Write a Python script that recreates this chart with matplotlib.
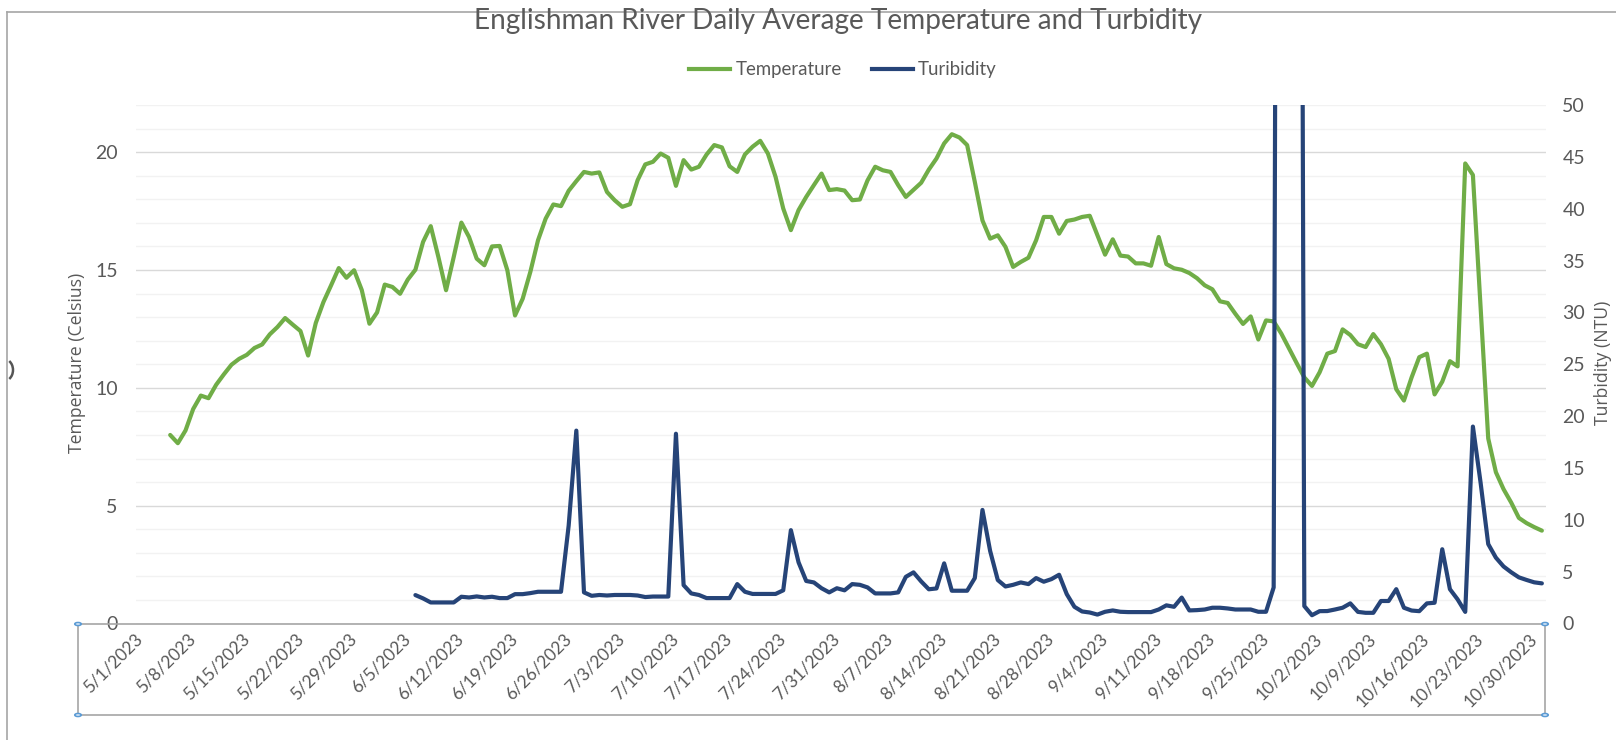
import numpy as np
import pandas as pd
import matplotlib
matplotlib.use("Agg")
import matplotlib.pyplot as plt
from matplotlib.patches import Rectangle, Circle, Arc
from matplotlib.lines import Line2D

# daily averages
temp_start = "2023-05-05"
temperature = [
    8.0, 7.65, 8.19, 9.1, 9.67, 9.56, 10.13, 10.57, 10.98, 11.23,
    11.4, 11.69, 11.84, 12.27, 12.58, 12.96, 12.68, 12.41, 11.37, 12.75,
    13.64, 14.35, 15.08, 14.67, 14.99, 14.15, 12.72, 13.2, 14.38, 14.28,
    13.99, 14.59, 15.01, 16.19, 16.86, 15.55, 14.14, 15.55, 17.01, 16.4,
    15.48, 15.2, 16.0, 16.02, 14.99, 13.07, 13.78, 14.92, 16.26, 17.18,
    17.78, 17.71, 18.36, 18.77, 19.16, 19.09, 19.14, 18.31, 17.96, 17.68,
    17.79, 18.81, 19.48, 19.59, 19.94, 19.76, 18.57, 19.66, 19.26, 19.38,
    19.9, 20.3, 20.2, 19.4, 19.16, 19.9, 20.23, 20.48, 19.94, 18.95,
    17.61, 16.69, 17.54, 18.1, 18.6, 19.09, 18.39, 18.43, 18.37, 17.96,
    17.99, 18.8, 19.38, 19.23, 19.16, 18.6, 18.1, 18.4, 18.7, 19.26,
    19.73, 20.37, 20.76, 20.62, 20.3, 18.74, 17.1, 16.33, 16.47, 15.98,
    15.13, 15.34, 15.52, 16.26, 17.25, 17.25, 16.54, 17.08, 17.14, 17.25,
    17.3, 16.48, 15.65, 16.3, 15.61, 15.57, 15.28, 15.28, 15.18, 16.4,
    15.25, 15.07, 15.01, 14.87, 14.65, 14.35, 14.18, 13.67, 13.6, 13.14,
    12.71, 13.03, 12.05, 12.86, 12.82, 12.3, 11.67, 11.05, 10.44, 10.08,
    10.66, 11.45, 11.56, 12.48, 12.24, 11.85, 11.73, 12.28, 11.85, 11.23,
    9.94, 9.46, 10.44, 11.3, 11.45, 9.72, 10.26, 11.13, 10.91, 19.52,
    19.03, 13.45, 7.85, 6.42, 5.7, 5.13, 4.48, 4.26, 4.09, 3.94,
]

turb_start = "2023-06-06"
turbidity = [
    2.74, 2.42, 2.03, 2.03, 2.03, 2.03, 2.58, 2.51, 2.61, 2.51,
    2.58, 2.45, 2.45, 2.83, 2.83, 2.93, 3.06, 3.06, 3.06, 3.06,
    9.44, 18.6, 3.0, 2.67, 2.75, 2.7, 2.75, 2.75, 2.75, 2.7,
    2.55, 2.6, 2.6, 2.6, 18.3, 3.7, 2.9, 2.75, 2.45, 2.45,
    2.45, 2.45, 3.8, 3.06, 2.85, 2.85, 2.85, 2.85, 3.2, 9.0,
    5.9, 4.1, 3.96, 3.4, 3.0, 3.4, 3.2, 3.8, 3.73, 3.48,
    2.9, 2.9, 2.9, 3.0, 4.5, 4.93, 4.06, 3.3, 3.38, 5.8,
    3.16, 3.16, 3.16, 4.38, 10.95, 7.0, 4.19, 3.57, 3.73, 3.96,
    3.8, 4.38, 4.03, 4.28, 4.7, 2.83, 1.61, 1.16, 1.06, 0.86,
    1.13, 1.26, 1.13, 1.1, 1.1, 1.1, 1.1, 1.35, 1.75, 1.61,
    2.5, 1.26, 1.29, 1.35, 1.52, 1.52, 1.45, 1.35, 1.35, 1.35,
    1.13, 1.13, 3.48, 250, 300, 230, 1.68, 0.8, 1.19, 1.2,
    1.35, 1.52, 1.94, 1.12, 1.03, 1.03, 2.17, 2.17, 3.31, 1.52,
    1.25, 1.19, 1.94, 2.0, 7.16, 3.31, 2.33, 1.12, 18.99, 13.6,
    7.66, 6.35, 5.5, 4.94, 4.45, 4.2, 3.97, 3.87,
]

tick_labels = [
    "5/1/2023", "5/8/2023", "5/15/2023", "5/22/2023", "5/29/2023",
    "6/5/2023", "6/12/2023", "6/19/2023", "6/26/2023", "7/3/2023",
    "7/10/2023", "7/17/2023", "7/24/2023", "7/31/2023", "8/7/2023",
    "8/14/2023", "8/21/2023", "8/28/2023", "9/4/2023", "9/11/2023",
    "9/18/2023", "9/25/2023", "10/2/2023", "10/9/2023", "10/16/2023",
    "10/23/2023", "10/30/2023",
]

temp_dates = pd.date_range(temp_start, periods=len(temperature), freq="D")
turb_dates = pd.date_range(turb_start, periods=len(turbidity), freq="D")
tick_dates = pd.to_datetime(tick_labels, format="%m/%d/%Y")

GREEN = "#70AD47"
NAVY = "#264478"
GREY = "#595959"

W, H = 1616, 740
fig = plt.figure(figsize=(W / 100, H / 100), dpi=100)
ax = fig.add_axes([135.7 / W, 1 - 623.5 / H, 1410 / W, 518.5 / H])
ax2 = ax.twinx()

ax.plot(temp_dates, temperature, color=GREEN, lw=3.0, solid_joinstyle="round",
        solid_capstyle="round", label="Temperature")
ax2.plot(turb_dates, turbidity, color=NAVY, lw=3.0, solid_joinstyle="round",
         solid_capstyle="round", label="Turibidity")

ax.set_xlim(pd.Timestamp("2023-04-30 12:00"), pd.Timestamp("2023-10-31 12:00"))
ax.set_ylim(0, 22)
ax2.set_ylim(0, 50)

ax.set_yticks(range(0, 21, 5))
ax.set_yticks(range(0, 23), minor=True)
ax.grid(which="major", axis="y", color="#d9d9d9", lw=1.0)
ax.grid(which="minor", axis="y", color="#f2f2f2", lw=1.0)
ax.set_axisbelow(True)
ax2.set_yticks(range(0, 51, 5))

ax.set_xticks(tick_dates)
ax.set_xticklabels(tick_labels, rotation=45, ha="right", va="center",
                   rotation_mode="anchor")
ax.tick_params(axis="x", length=0, pad=9, labelsize=12.5, labelcolor=GREY)
ax.tick_params(axis="y", which="both", length=0, pad=13, labelsize=14, labelcolor=GREY)
ax2.tick_params(axis="y", length=0, pad=12, labelsize=14, labelcolor=GREY)
for lab in ax.get_xticklabels() + ax.get_yticklabels() + ax2.get_yticklabels():
    lab.set_family("Lato")

for a in (ax, ax2):
    for s in a.spines.values():
        s.set_visible(False)

# titles and legend
fig.text(838 / W, 1 - 21 / H, "Englishman River Daily Average Temperature and Turbidity",
         ha="center", va="center", fontsize=20.2, color=GREY, family="Lato")
fig.text(77 / W, 1 - 363 / H, "Temperature (Celsius)", rotation=90, ha="center",
         va="center", fontsize=12.7, color=GREY, family="Open Sans")
fig.text(1603 / W, 1 - 363 / H, "Turbidity (NTU)", rotation=90, ha="center",
         va="center", fontsize=12.7, color=GREY, family="Open Sans")

handles = [Line2D([], [], color=GREEN, lw=3.0), Line2D([], [], color=NAVY, lw=3.0)]
fig.legend(handles, ["Temperature", "Turibidity"], loc="center",
           bbox_to_anchor=(843 / W, 1 - 70 / H), ncol=2, frameon=False,
           handlelength=2.2, handletextpad=0.3, columnspacing=1.6,
           prop={"family": "Lato", "size": 13.4}, labelcolor=GREY)

# selected horizontal-axis box, as in the Excel screenshot
fig.add_artist(Rectangle((78 / W, 1 - 715 / H), 1467 / W, 91 / H, transform=fig.transFigure,
                         fill=False, edgecolor="#a6a6a6", lw=1.2))
for px, py in [(78, 624), (1545, 624), (78, 715), (1545, 715)]:
    fig.add_artist(Circle((px / W, 1 - py / H), 3.2 / W, transform=fig.transFigure,
                          facecolor="white", edgecolor="#5b9bd5", lw=1.2))

# chart-area frame
fig.add_artist(Line2D([7 / W, 1], [1 - 12 / H, 1 - 12 / H], transform=fig.transFigure,
                      color="#a6a6a6", lw=1.2))
fig.add_artist(Line2D([7 / W, 7 / W], [0, 1 - 12 / H], transform=fig.transFigure,
                      color="#a6a6a6", lw=1.2))
fig.add_artist(Arc((4 / W, 1 - 370 / H), 18 / W, 22 / H, theta1=-75, theta2=75,
                   transform=fig.transFigure, color="#555555", lw=1.8))

fig.savefig("out.png", dpi=100)
